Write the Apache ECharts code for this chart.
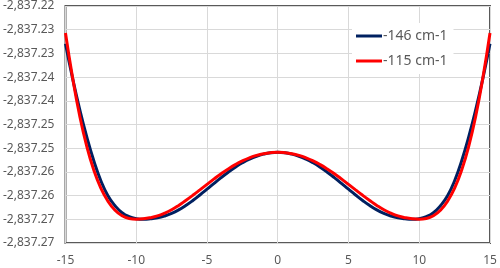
<!DOCTYPE html>
<html>
<head>
<meta charset="utf-8">
<script src="https://cdn.jsdelivr.net/npm/echarts@6/dist/echarts.min.js"></script>
<style>html,body{margin:0;padding:0;background:#fff}#c{width:500px;height:268px}</style>
</head>
<body>
<div id="c"></div>
<script>
// x positions (displacement)
var xs = [-15,-14.5,-14,-13.5,-13,-12.5,-12,-11.5,-11,-10.5,-10,-9.5,-9,-8.5,-8,-7.5,-7,-6.5,-6,-5.5,-5,-4.5,-4,-3.5,-3,-2.5,-2,-1.5,-1,-0.5,
          0,0.5,1,1.5,2,2.5,3,3.5,4,4.5,5,5.5,6,6.5,7,7.5,8,8.5,9,9.5,10,10.5,11,11.5,12,12.5,13,13.5,14,14.5,15];
// series "-146 cm-1" (navy)
var s146 = [-2837.22795,-2837.23523,-2837.24177,-2837.24757,-2837.25264,-2837.25686,-2837.26002,-2837.26213,-2837.26361,-2837.26445,
            -2837.26487,-2837.26500,-2837.26490,-2837.26468,-2837.26430,-2837.26376,-2837.26302,-2837.26209,-2837.26103,-2837.25987,
            -2837.25865,-2837.25741,-2837.25620,-2837.25506,-2837.25401,-2837.25308,-2837.25230,-2837.25169,-2837.25125,-2837.25097,
            -2837.25087,
            -2837.25097,-2837.25125,-2837.25169,-2837.25230,-2837.25308,-2837.25401,-2837.25506,-2837.25620,-2837.25741,-2837.25865,
            -2837.25987,-2837.26103,-2837.26209,-2837.26302,-2837.26376,-2837.26430,-2837.26468,-2837.26490,-2837.26500,-2837.26487,
            -2837.26445,-2837.26361,-2837.26213,-2837.26002,-2837.25686,-2837.25264,-2837.24757,-2837.24177,-2837.23523,-2837.22795];
// series "-115 cm-1" (red)
var s115 = [-2837.22570,-2837.23508,-2837.24310,-2837.24954,-2837.25460,-2837.25844,-2837.26118,-2837.26308,-2837.26426,-2837.26483,
            -2837.26498,-2837.26490,-2837.26466,-2837.26428,-2837.26371,-2837.26298,-2837.26207,-2837.26103,-2837.25994,-2837.25880,
            -2837.25764,-2837.25648,-2837.25538,-2837.25437,-2837.25346,-2837.25268,-2837.25203,-2837.25152,-2837.25116,-2837.25095,
            -2837.25087,
            -2837.25095,-2837.25116,-2837.25152,-2837.25203,-2837.25268,-2837.25346,-2837.25437,-2837.25538,-2837.25648,-2837.25764,
            -2837.25880,-2837.25994,-2837.26103,-2837.26207,-2837.26298,-2837.26371,-2837.26428,-2837.26466,-2837.26490,-2837.26498,
            -2837.26483,-2837.26426,-2837.26308,-2837.26118,-2837.25844,-2837.25460,-2837.24954,-2837.24310,-2837.23508,-2837.22570];
var seriesNames = ['-146 cm-1', '-115 cm-1'];
// y tick labels, bottom to top
var yLabels = ['-2,837.27','-2,837.27','-2,837.26','-2,837.26','-2,837.25','-2,837.25','-2,837.24','-2,837.24','-2,837.23','-2,837.23','-2,837.22'];
var yMin = -2837.27, yMax = -2837.22, yStep = 0.005;
var xMin = -15, xMax = 15, xStep = 5;

function pairs(ys){ return xs.map(function(x,i){ return [x, ys[i]]; }); }

var font = 'Noto Sans';
var chart = echarts.init(document.getElementById('c'), null, {renderer:'canvas'});
chart.setOption({
  animation: false,
  backgroundColor: '#fff',
  grid: {left: 64, right: 10, top: 6, bottom: 25, show: true, borderColor: '#595959', borderWidth: 2, backgroundColor: 'transparent'},
  xAxis: {
    type: 'value', min: xMin, max: xMax, interval: xStep,
    axisLine: {show: false}, axisTick: {show: false},
    splitLine: {show: true, lineStyle: {color: '#d9d9d9', width: 1}},
    axisLabel: {color: '#595959', fontFamily: font, fontSize: 12, margin: 12}
  },
  yAxis: {
    type: 'value', min: yMin, max: yMax, interval: yStep,
    axisLine: {show: false}, axisTick: {show: false},
    splitLine: {show: true, lineStyle: {color: '#d9d9d9', width: 1}},
    axisLabel: {color: '#595959', fontFamily: font, fontSize: 12, margin: 11,
      formatter: function(v){ var i = Math.round((v - yMin)/yStep); return yLabels[i] || ''; }}
  },
  legend: {
    orient: 'vertical', left: 352, top: 23, padding: [5, 6, 5, 4],
    backgroundColor: '#fff', itemGap: 9, itemWidth: 26, itemHeight: 3, icon: 'rect',
    textStyle: {color: '#595959', fontFamily: font, fontSize: 14, lineHeight: 16, padding: [0,0,0,-4]},
    data: seriesNames
  },
  series: [
    {name: seriesNames[0], type: 'line', data: pairs(s146), smooth: 0.5, symbol: 'none', color: '#002060', lineStyle: {width: 3, color: '#002060'}},
    {name: seriesNames[1], type: 'line', data: pairs(s115), smooth: 0.5, symbol: 'none', color: '#ff0000', lineStyle: {width: 3, color: '#ff0000'}}
  ]
});
</script>
</body>
</html>
